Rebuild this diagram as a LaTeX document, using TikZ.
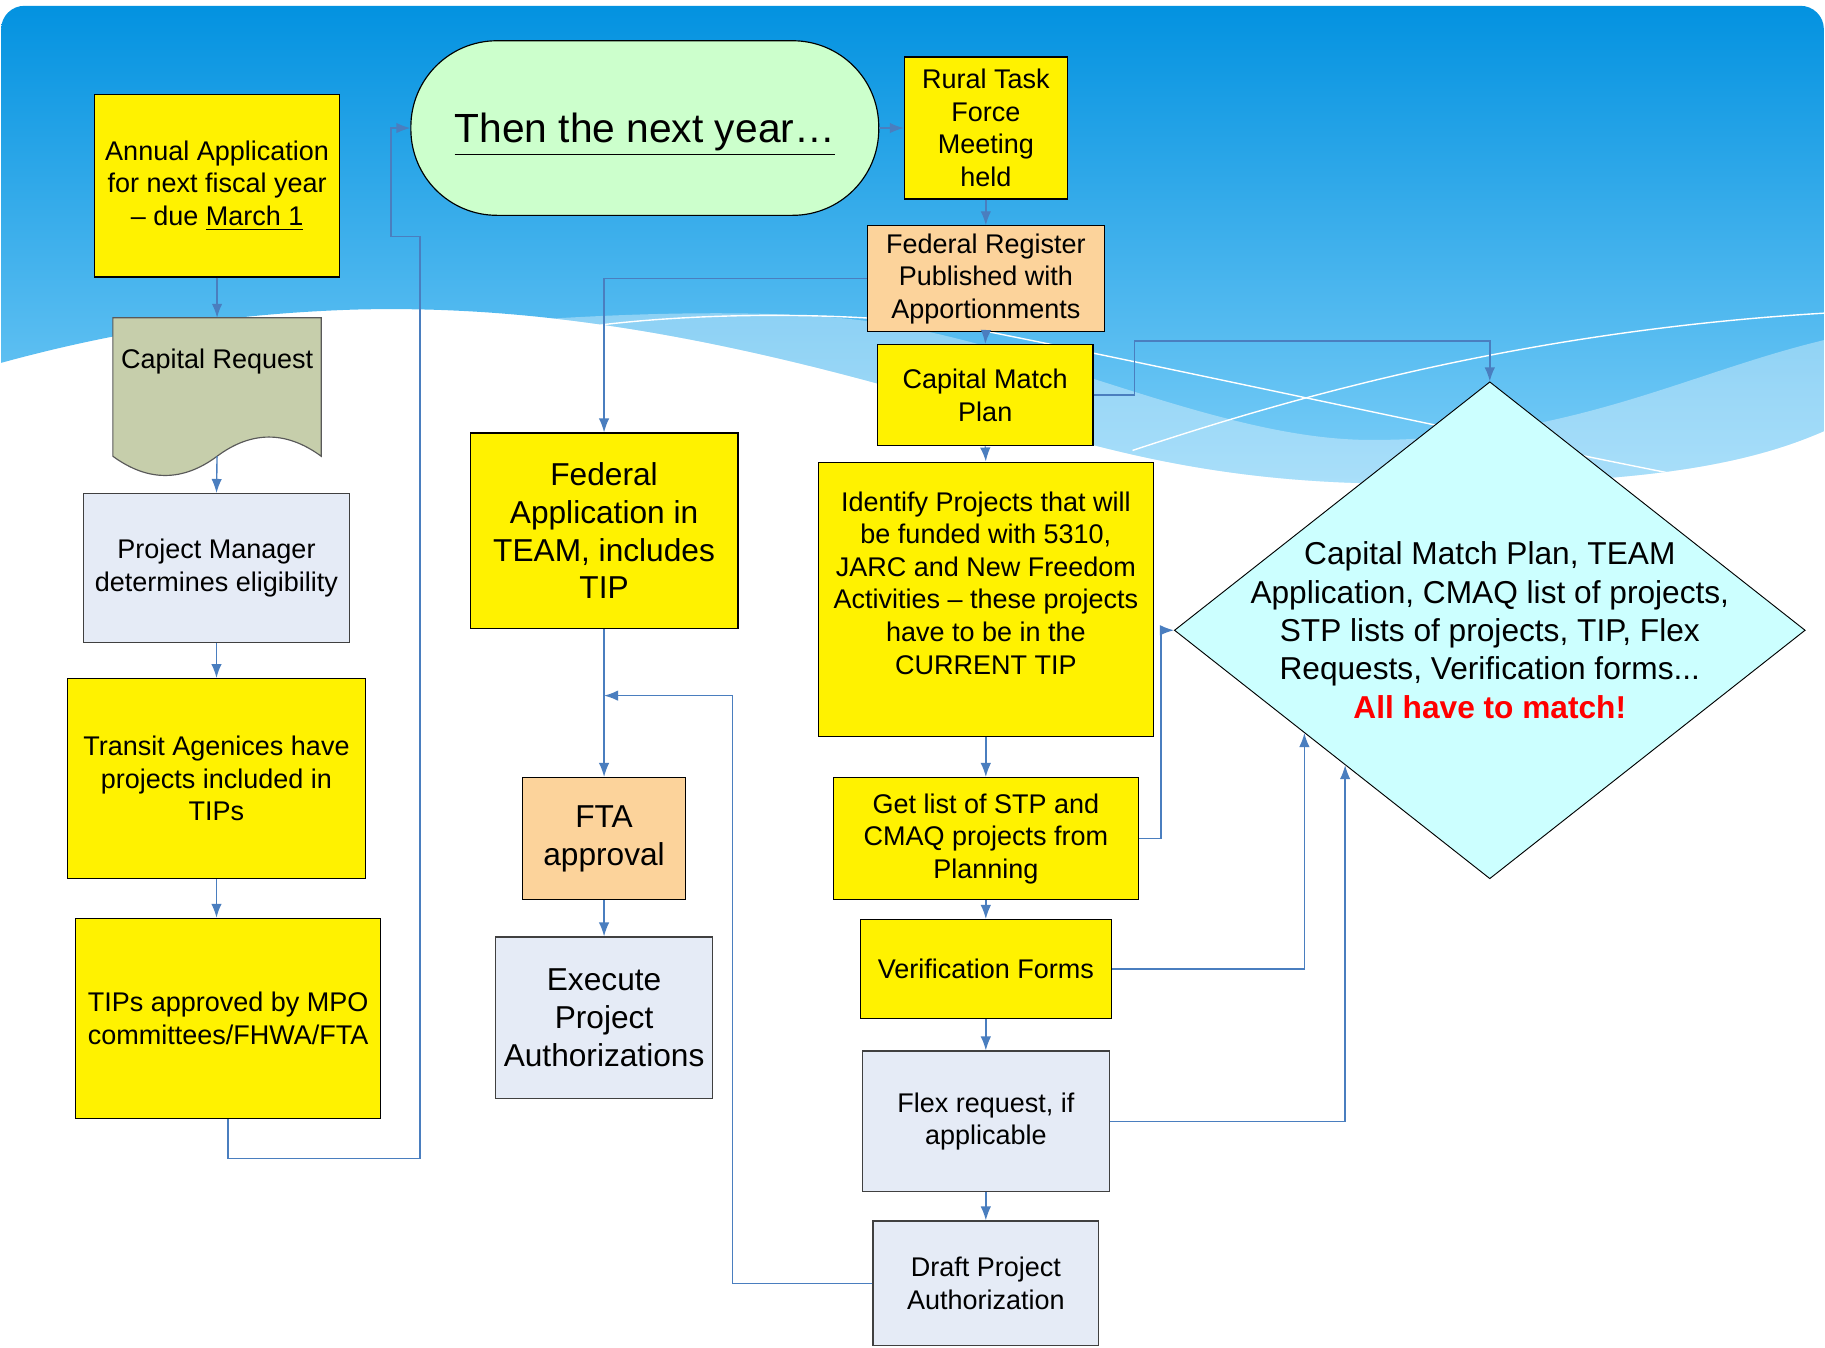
\documentclass[tikz,border=0pt]{standalone}
\usepackage{fontspec}
\setmainfont{Liberation Sans}
\usepackage{tikz}
\usetikzlibrary{arrows.meta}
\usetikzlibrary{shapes.geometric}
\usetikzlibrary{calc}
\definecolor{linkblue}{RGB}{74,126,191}
\definecolor{peach}{RGB}{252,211,155}
\definecolor{paleblue}{RGB}{229,235,246}
\definecolor{olivegrey}{RGB}{198,206,171}
\definecolor{mint}{RGB}{204,255,204}
\definecolor{palecyan}{RGB}{204,255,255}
\definecolor{skytop}{RGB}{3,146,224}
\definecolor{skybot}{RGB}{125,207,248}
\tikzstyle{smalltext}=[font=\fontsize{11.6}{14}\selectfont]
\tikzstyle{bigtext}=[font=\fontsize{13.6}{16.2}\selectfont]
\tikzstyle{box}=[draw=black, line width=.5pt, align=center, inner sep=1mm]
\tikzstyle{yellowbox}=[box, smalltext, fill=yellow]
\tikzstyle{peachbox}=[box, smalltext, fill=peach]
\tikzstyle{greybox}=[box, smalltext, draw=black!75, fill=paleblue]
\tikzstyle{link}=[draw=linkblue, line width=.6pt, -{Latex[length=6pt,width=4.5pt]}]

\begin{document}
\begin{tikzpicture}[x=0.5pt, y=-0.5pt]
    \useasboundingbox (0,0) rectangle (1568,1158);
    \fill[white] (0,0) rectangle (1568,1158);

    % sky and waves
    \begin{scope}
      \clip (0,0) -- (1568,0) -- (1568,370) .. controls (1500,400) and (1400,420) .. (1168,415)
        .. controls (1000,410) and (900,370) .. (795,341) .. controls (600,285) and (450,262) .. (304,266)
        .. controls (180,270) and (80,290) .. (0,312) -- cycle;
      \shade[top color=skytop, bottom color=skybot, rounded corners=10pt] (1,5) rectangle (1567,420);
      \fill[white, opacity=.35] (440,276) .. controls (550,268) and (680,265) .. (760,278)
        .. controls (900,300) and (1050,378) .. (1178,378) .. controls (1350,378) and (1450,320) .. (1568,292)
        -- (1568,1000) -- (440,1000) -- cycle;
      \draw[white, line width=.6pt] (481,284) .. controls (600,265) and (760,268) .. (849,285)
        .. controls (1000,315) and (1250,370) .. (1442,408);
      \draw[white, line width=.6pt] (973,387) .. controls (1100,345) and (1300,285) .. (1568,269);
    \end{scope}

    % left column
    \node[yellowbox, minimum width=105.5pt, minimum height=78.5pt] (annual) at (186.5,159.5)
      {Annual Application\\for next fiscal year\\– due \underline{March 1}};
    \draw[draw=black!65, line width=.5pt, fill=olivegrey] (97,273) -- (276,273) -- (276,392)
      .. controls (246,370) and (216,370) .. (186.5,392) .. controls (157,414) and (127,414) .. (97,392) -- cycle;
    \node[smalltext] (capreq) at (186.5,311) {Capital Request};
    \coordinate (capreqtop) at (186.5,273);
    \coordinate (capreqend) at (186.5,392);
    \node[greybox, minimum width=114pt, minimum height=64pt] (pm) at (186,488)
      {Project Manager\\determines eligibility};
    \node[yellowbox, minimum width=128pt, minimum height=86pt] (transit) at (186,669)
      {Transit Agenices have\\projects included in\\TIPs};
    \node[yellowbox, minimum width=131pt, minimum height=86pt] (tips) at (196,875)
      {TIPs approved by MPO\\committees/FHWA/FTA};

    % middle column
    \node[draw=black, line width=.5pt, fill=mint, rounded corners=37pt, minimum width=201pt,
      minimum height=75pt, text depth=0pt, font=\fontsize{17.5}{21}\selectfont] (next) at (554,110)
      {\underline{Then the next year…}};
    \node[yellowbox, bigtext, minimum width=115pt, minimum height=84pt] (fedapp) at (519,456)
      {Federal\\Application in\\TEAM, includes\\TIP};
    \node[peachbox, bigtext, minimum width=70pt, minimum height=52.5pt] (fta) at (519,720.5)
      {FTA\\approval};
    \node[greybox, bigtext, minimum width=93pt, minimum height=69.5pt] (execute) at (519,874.5)
      {Execute\\Project\\Authorizations};
    \coordinate (merge) at ($(fedapp.south)!0.45!(fta.north)$);

    % right column
    \node[yellowbox, minimum width=70pt, minimum height=61pt] (rural) at (847,110)
      {Rural Task\\Force\\Meeting\\held};
    \node[peachbox, minimum width=102pt, minimum height=45.5pt] (fedreg) at (847,239.5)
      {Federal Register\\Published with\\Apportionments};
    \node[yellowbox, minimum width=92.5pt, minimum height=43.5pt] (cmp) at (846.5,339.5)
      {Capital Match\\Plan};
    \node[yellowbox, minimum width=144pt, minimum height=118pt] (identify) at (847,515)
      {Identify Projects that will\\be funded with 5310,\\JARC and New Freedom\\Activities – these projects\\have to be in the\\CURRENT TIP\\[-4pt]\strut};
    \node[yellowbox, minimum width=131pt, minimum height=52.5pt] (getlist) at (847,720.5)
      {Get list of STP and\\CMAQ projects from\\Planning};
    \node[yellowbox, minimum width=108pt, minimum height=42.5pt] (verif) at (847,832.5)
      {Verification Forms};
    \node[greybox, minimum width=106pt, minimum height=60.5pt] (flex) at (847,963.5)
      {Flex request, if\\applicable};
    \node[greybox, minimum width=97pt, minimum height=53.5pt] (draft) at (847,1102.5)
      {Draft Project\\Authorization};

    % the big check
    \node[diamond, draw=black, line width=.4pt, fill=palecyan, minimum width=271pt,
      minimum height=213.5pt, inner sep=0pt] (match) at (1280,541.5) {};
    \node[align=center, font=\fontsize{13.6}{16.5}\selectfont] (matchtxt) at (1280,541.5)
      {Capital Match Plan, TEAM\\Application, CMAQ list of projects,\\STP lists of projects, TIP, Flex\\Requests, Verification forms...\\\textcolor{red}{\textbf{All have to match!}}};
    \coordinate (matchA) at ($(match.west)!0.413!(match.south)$);
    \coordinate (matchB) at ($(match.west)!0.542!(match.south)$);

    % connectors
    \draw[link] (annual.south) -- (capreqtop);
    \draw[link] (capreqend) -- (pm.north);
    \draw[link] (pm.south) -- (transit.north);
    \draw[link] (transit.south) -- (transit.south |- tips.north);
    \draw[link] (tips.south) -- ++(0,34) -- ++(165,0) -- (361,203) -- (336,203) |- (next.west);
    \draw[link] (next.east) -- (rural.west);
    \draw[link] (rural.south) -- (fedreg.north);
    \draw[link] (fedreg.west) -| (fedapp.north);
    \draw[link] (fedreg.south) -- (cmp.north);
    \draw[link] (cmp.east) -- ++(35,0) -- ++(0,-46.5) -| (match.north);
    \draw[link] (cmp.south) -- (identify.north);
    \draw[link] (identify.south) -- (getlist.north);
    \draw[link] (getlist.east) -- ++(19,0) |- (match.west);
    \draw[link] (getlist.south) -- (verif.north);
    \draw[link] (verif.east) -| (matchA);
    \draw[link] (verif.south) -- (flex.north);
    \draw[link] (flex.east) -| (matchB);
    \draw[link] (flex.south) -- (draft.north);
    \draw[link] (draft.west) -- ++(-120,0) |- (merge);
    \draw[link] (fedapp.south) -- (fta.north);
    \draw[link] (fta.south) -- (execute.north);
\end{tikzpicture}
\end{document}
